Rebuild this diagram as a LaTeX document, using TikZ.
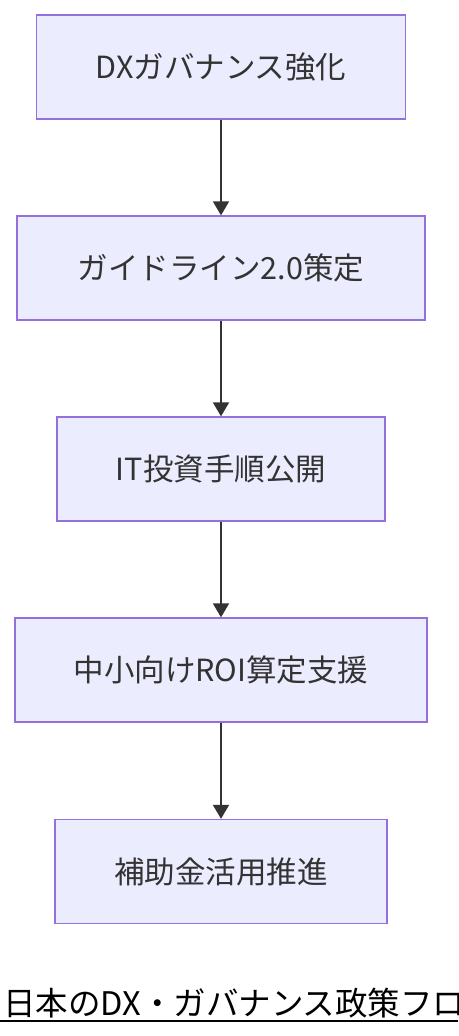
\documentclass[tikz,border=0pt]{standalone}
\usepackage{fontspec}
\newfontfamily\jpfont{Noto Sans CJK JP}
\usepackage{tikz}
\usetikzlibrary{positioning,arrows.meta}

\definecolor{boxfill}{HTML}{ECECFF}
\definecolor{boxline}{HTML}{9370DB}
\definecolor{edgecol}{HTML}{333333}

\begin{document}
\begin{tikzpicture}[
  x=1pt, y=-1pt,
  stepbox/.style={rectangle, draw=boxline, fill=boxfill, line width=1.3pt,
    minimum height=104pt, inner sep=0pt, text=edgecol,
    font=\jpfont\fontsize{30.5}{36}\selectfont},
  flow/.style={-{Triangle[length=14pt, width=16pt]}, draw=edgecol, fill=edgecol, line width=1.8pt}
]
  \clip (0,0) rectangle (458,1036);
  \node[stepbox, minimum width=369pt] (gov)   at (221,67)    {DXガバナンス強化};
  \node[stepbox, minimum width=408pt] (guide) at (221,268)   {ガイドライン2.0策定};
  \node[stepbox, minimum width=328pt] (itinv) at (221,469)   {IT投資手順公開};
  \node[stepbox, minimum width=412pt] (roi)   at (221,670)   {中小向けROI算定支援};
  \node[stepbox, minimum width=332pt] (sub)   at (221,871.5) {補助金活用推進};

  \draw[flow] (gov) -- (guide);
  \draw[flow] (guide) -- (itinv);
  \draw[flow] (itinv) -- (roi);
  \draw[flow] (roi) -- (sub);

  % title with underline
  \node[anchor=base west, inner sep=0pt, font=\jpfont\fontsize{32.5}{38}\selectfont]
    (title) at (3,1015) {日本のDX・ガバナンス政策フロー};
  \draw[line width=1.6pt] (0,1021) -- (458,1021);
\end{tikzpicture}
\end{document}
